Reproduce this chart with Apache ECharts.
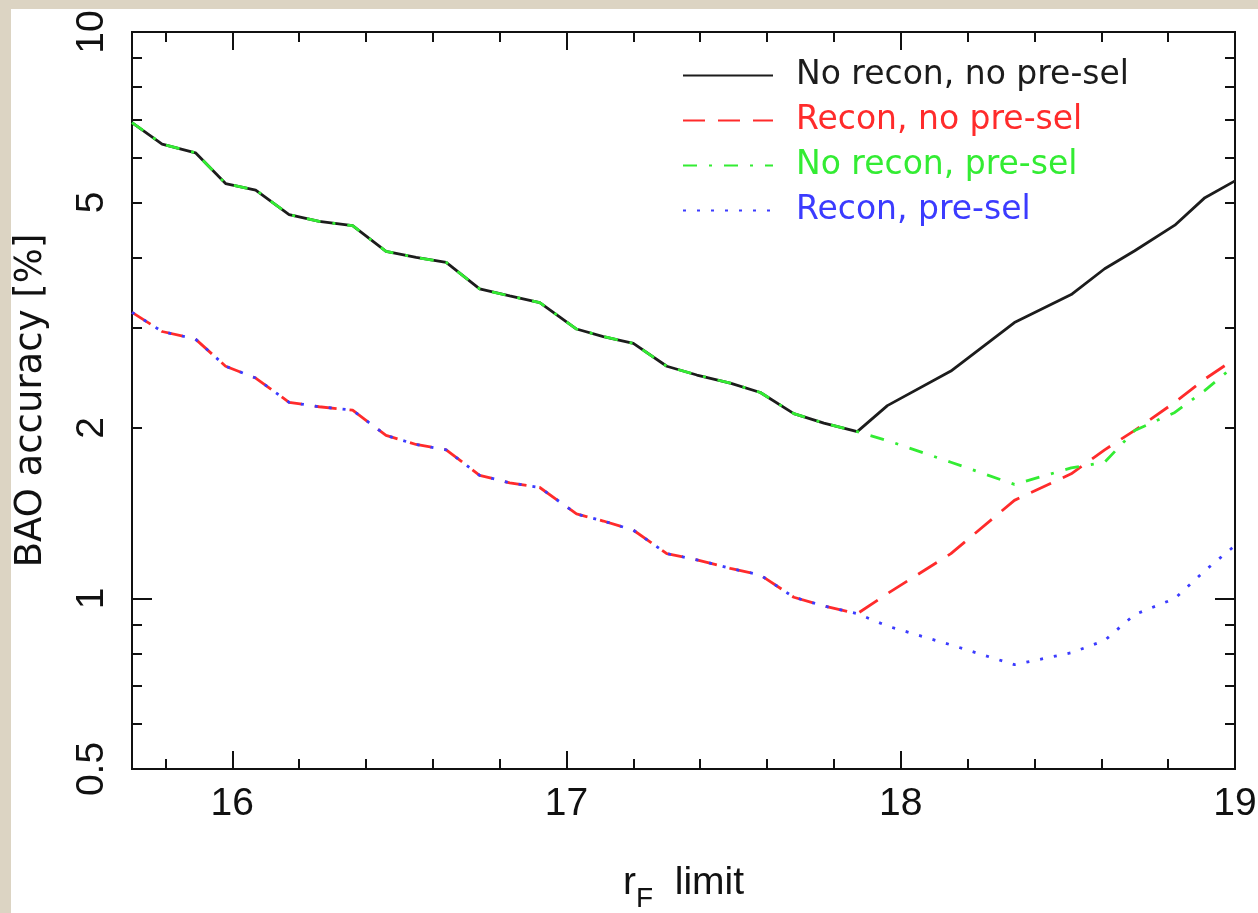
<!DOCTYPE html>
<html>
<head>
<meta charset="utf-8">
<script src="https://cdn.jsdelivr.net/npm/echarts@6/dist/echarts.min.js"></script>
<style>
  html, body { margin: 0; padding: 0; background: #ffffff; }
  #chart { width: 1258px; height: 913px; }
</style>
</head>
<body>
<div id="chart"></div>
<script>
// Limiting r_F magnitude of the sample
const rLimit = [15.70, 15.79, 15.89, 15.98, 16.07, 16.17, 16.26, 16.36, 16.46, 16.55, 16.64,
  16.74, 16.83, 16.92, 17.03, 17.11, 17.20, 17.30, 17.39, 17.49, 17.58, 17.68, 17.77, 17.87,
  17.96, 18.15, 18.34, 18.51, 18.61, 18.70, 18.82, 18.91, 19.00];

// BAO accuracy [%] for each selection
const noReconNoPresel = [6.92, 6.34, 6.12, 5.40, 5.26, 4.76, 4.63, 4.55, 4.10, 4.00, 3.92,
  3.52, 3.42, 3.33, 2.99, 2.90, 2.82, 2.57, 2.48, 2.40, 2.31, 2.12, 2.04, 1.97,
  2.19, 2.52, 3.07, 3.44, 3.82, 4.11, 4.56, 5.10, 5.46];
const reconNoPresel = [3.20, 2.96, 2.87, 2.57, 2.45, 2.22, 2.18, 2.15, 1.94, 1.87, 1.83,
  1.65, 1.60, 1.57, 1.41, 1.37, 1.32, 1.20, 1.17, 1.13, 1.10, 1.005, 0.97, 0.94,
  1.02, 1.20, 1.49, 1.66, 1.83, 1.98, 2.22, 2.44, 2.65];
const noReconPresel = [6.92, 6.34, 6.12, 5.40, 5.26, 4.76, 4.63, 4.55, 4.10, 4.00, 3.92,
  3.52, 3.42, 3.33, 2.99, 2.90, 2.82, 2.57, 2.48, 2.40, 2.31, 2.12, 2.04, 1.97,
  1.90, 1.74, 1.59, 1.70, 1.74, 1.98, 2.13, 2.33, 2.58];
const reconPresel = [3.20, 2.96, 2.87, 2.57, 2.45, 2.22, 2.18, 2.15, 1.94, 1.87, 1.83,
  1.65, 1.60, 1.57, 1.41, 1.37, 1.32, 1.20, 1.17, 1.13, 1.10, 1.005, 0.97, 0.94,
  0.894, 0.828, 0.764, 0.802, 0.843, 0.937, 1.00, 1.12, 1.24];

const seriesNames = ['No recon, no pre-sel', 'Recon, no pre-sel', 'No recon, pre-sel', 'Recon, pre-sel'];

// Tick positions
const xMajorTicks = [16, 17, 18, 19];
const xMinorTicks = [15.8, 16.2, 16.4, 16.6, 16.8, 17.2, 17.4, 17.6, 17.8, 18.2, 18.4, 18.6, 18.8];
const yMajorTicks = [1, 10];
const yMinorTicks = [0.6, 0.7, 0.8, 0.9, 2, 3, 4, 5, 6, 7, 8, 9];
const yLabels = [0.5, 1, 2, 5, 10];

const FONT = '"Liberation Sans", Arial, Helvetica, sans-serif';
const WIDE = '"DejaVu Sans", Verdana, sans-serif';
const INK = '#111111';
const colors = ['#1c1c1c', '#ff2b2b', '#33ec33', '#3b3bff'];
const dashes = ['solid', [22, 13], [14, 12, 3, 12], [3, 11]];

const chart = echarts.init(document.getElementById('chart'), null, { renderer: 'canvas' });

function xAxisDef(ticks, len, withLabels, pos) {
  return {
    type: 'value', position: pos, min: 15.7, max: 19,
    axisLine: { show: true, lineStyle: { color: INK, width: 2 } },
    splitLine: { show: false },
    axisTick: { show: true, inside: true, length: len, customValues: ticks, lineStyle: { color: INK, width: 2 } },
    axisLabel: withLabels
      ? { show: true, customValues: ticks, margin: 16, fontSize: 39, fontFamily: FONT, color: INK }
      : { show: false }
  };
}

function yAxisDef(ticks, len, withLabels, pos) {
  return {
    type: 'log', logBase: 10, position: pos, min: 0.5, max: 10,
    axisLine: { show: true, lineStyle: { color: INK, width: 2 } },
    splitLine: { show: false },
    minorTick: { show: false },
    axisTick: { show: true, inside: true, length: len, customValues: ticks, lineStyle: { color: INK, width: 2 } },
    axisLabel: withLabels
      ? { show: true, customValues: yLabels, rotate: 90, margin: 20, fontSize: 39, fontFamily: FONT, color: INK }
      : { show: false }
  };
}

const xMain = xAxisDef(xMajorTicks, 18, true, 'bottom');
xMain.name = '{r|r}{sub|F}{r|  limit}';
xMain.nameLocation = 'middle';
xMain.nameGap = 95;
xMain.nameTextStyle = {
  color: INK, fontFamily: FONT,
  rich: {
    r: { fontSize: 39, lineHeight: 40, verticalAlign: 'top', fontFamily: FONT, color: INK },
    sub: { fontSize: 28, lineHeight: 28, verticalAlign: 'top', padding: [21, 0, 0, 0], fontFamily: FONT, color: INK }
  }
};

const yMain = yAxisDef(yMajorTicks, 20, true, 'left');
yMain.name = 'BAO accuracy [%]';
yMain.nameLocation = 'middle';
yMain.nameGap = 82;
yMain.nameTextStyle = { fontSize: 37, fontFamily: WIDE, color: INK };

const series = [noReconNoPresel, reconNoPresel, noReconPresel, reconPresel].map((vals, k) => ({
  name: seriesNames[k],
  type: 'line',
  xAxisIndex: 0,
  yAxisIndex: 0,
  symbol: 'none',
  smooth: false,
  z: 2 + k,
  lineStyle: { color: colors[k], width: 2.8, type: dashes[k] },
  itemStyle: { color: colors[k] },
  data: rLimit.map((x, i) => [x, vals[i]])
}));

chart.setOption({
  backgroundColor: '#ffffff',
  animation: false,
  grid: { left: 132, right: 23, top: 32, bottom: 144, containLabel: false, outerBoundsMode: 'none' },
  xAxis: [
    xMain,
    xAxisDef(xMajorTicks, 18, false, 'top'),
    xAxisDef(xMinorTicks, 10, false, 'bottom'),
    xAxisDef(xMinorTicks, 10, false, 'top')
  ],
  yAxis: [
    yMain,
    yAxisDef(yMajorTicks, 20, false, 'right'),
    yAxisDef(yMinorTicks, 10, false, 'left'),
    yAxisDef(yMinorTicks, 10, false, 'right')
  ],
  legend: {
    orient: 'vertical',
    left: 682,
    top: 59,
    padding: 0,
    itemWidth: 90,
    itemHeight: 14,
    itemGap: 12,
    selectedMode: false,
    itemStyle: { opacity: 0 },
    data: seriesNames.map((n, k) => ({ name: n, textStyle: { color: colors[k] } })),
    formatter: n => '{t|' + n + '}',
    textStyle: {
      fontSize: 33, fontFamily: WIDE,
      rich: { t: { fontSize: 33, lineHeight: 40, fontFamily: WIDE, padding: [0, 0, 0, 18] } }
    }
  },
  graphic: [
    { type: 'rect', left: 0, top: 0, shape: { width: 1258, height: 9 }, style: { fill: '#dcd4c3' }, silent: true },
    { type: 'rect', left: 0, top: 0, shape: { width: 11, height: 913 }, style: { fill: '#dcd4c3' }, silent: true }
  ],
  series: series
});
</script>
</body>
</html>
